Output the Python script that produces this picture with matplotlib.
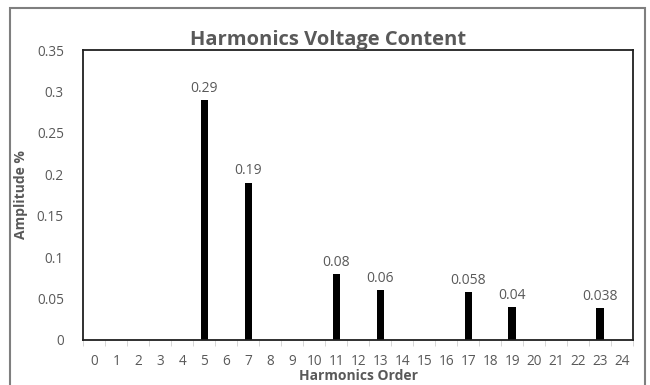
import matplotlib.pyplot as plt
from matplotlib.patches import Rectangle
from matplotlib.ticker import MultipleLocator

orders = list(range(25))
harmonic_orders = [5, 7, 11, 13, 17, 19, 23]
amplitudes = [0.29, 0.19, 0.08, 0.06, 0.058, 0.04, 0.038]
value_labels = ['0.29', '0.19', '0.08', '0.06', '0.058', '0.04', '0.038']

gray = '#595959'
plt.rcParams['font.family'] = ['Open Sans', 'DejaVu Sans']

fig = plt.figure(figsize=(6.5, 3.85), dpi=100)
ax = fig.add_axes([0.128, 0.117, 0.846, 0.753])

values = [0.0] * len(orders)
for h, a in zip(harmonic_orders, amplitudes):
    values[h] = a
bars = ax.bar(orders, values, width=0.33, color='black')

for h, a, lab in zip(harmonic_orders, amplitudes, value_labels):
    ax.annotate(lab, (h, a), xytext=(0, 3), textcoords='offset points',
                ha='center', va='bottom', fontsize=10, color=gray)

ax.set_xlim(-0.5, 24.5)
ax.set_ylim(0, 0.35)
ax.set_xticks(orders)
ax.set_xticklabels([str(o) for o in orders])
ax.xaxis.set_minor_locator(MultipleLocator(1, offset=0.5))
ax.tick_params(axis='x', which='major', length=0, pad=10, labelsize=9.8, labelcolor=gray)
ax.tick_params(axis='x', which='minor', length=4, color='#d0d0d0')
ax.yaxis.set_major_locator(MultipleLocator(0.05))
ax.yaxis.set_major_formatter(plt.FuncFormatter(lambda v, p: f'{v:g}'))
ax.tick_params(axis='y', length=0, pad=14, labelsize=9.8, labelcolor=gray)

for s in ax.spines.values():
    s.set_color('#202020')
    s.set_linewidth(1.3)

ax.set_ylabel('Amplitude %', fontsize=10, fontweight='bold', color=gray, labelpad=6)
ax.set_xlabel('Harmonics Order', fontsize=10, fontweight='bold', color=gray, labelpad=0)
fig.text(0.505, 0.895, 'Harmonics Voltage Content', ha='center', va='center',
         fontsize=14.5, fontweight='bold', color=gray)

fig.patches.append(Rectangle((10 / 650, -0.01), 635 / 650, 1 - 8 / 385 + 0.01,
                             transform=fig.transFigure, fill=False,
                             edgecolor='#7f7f7f', linewidth=1.5))

fig.savefig('out.png', dpi=100)
